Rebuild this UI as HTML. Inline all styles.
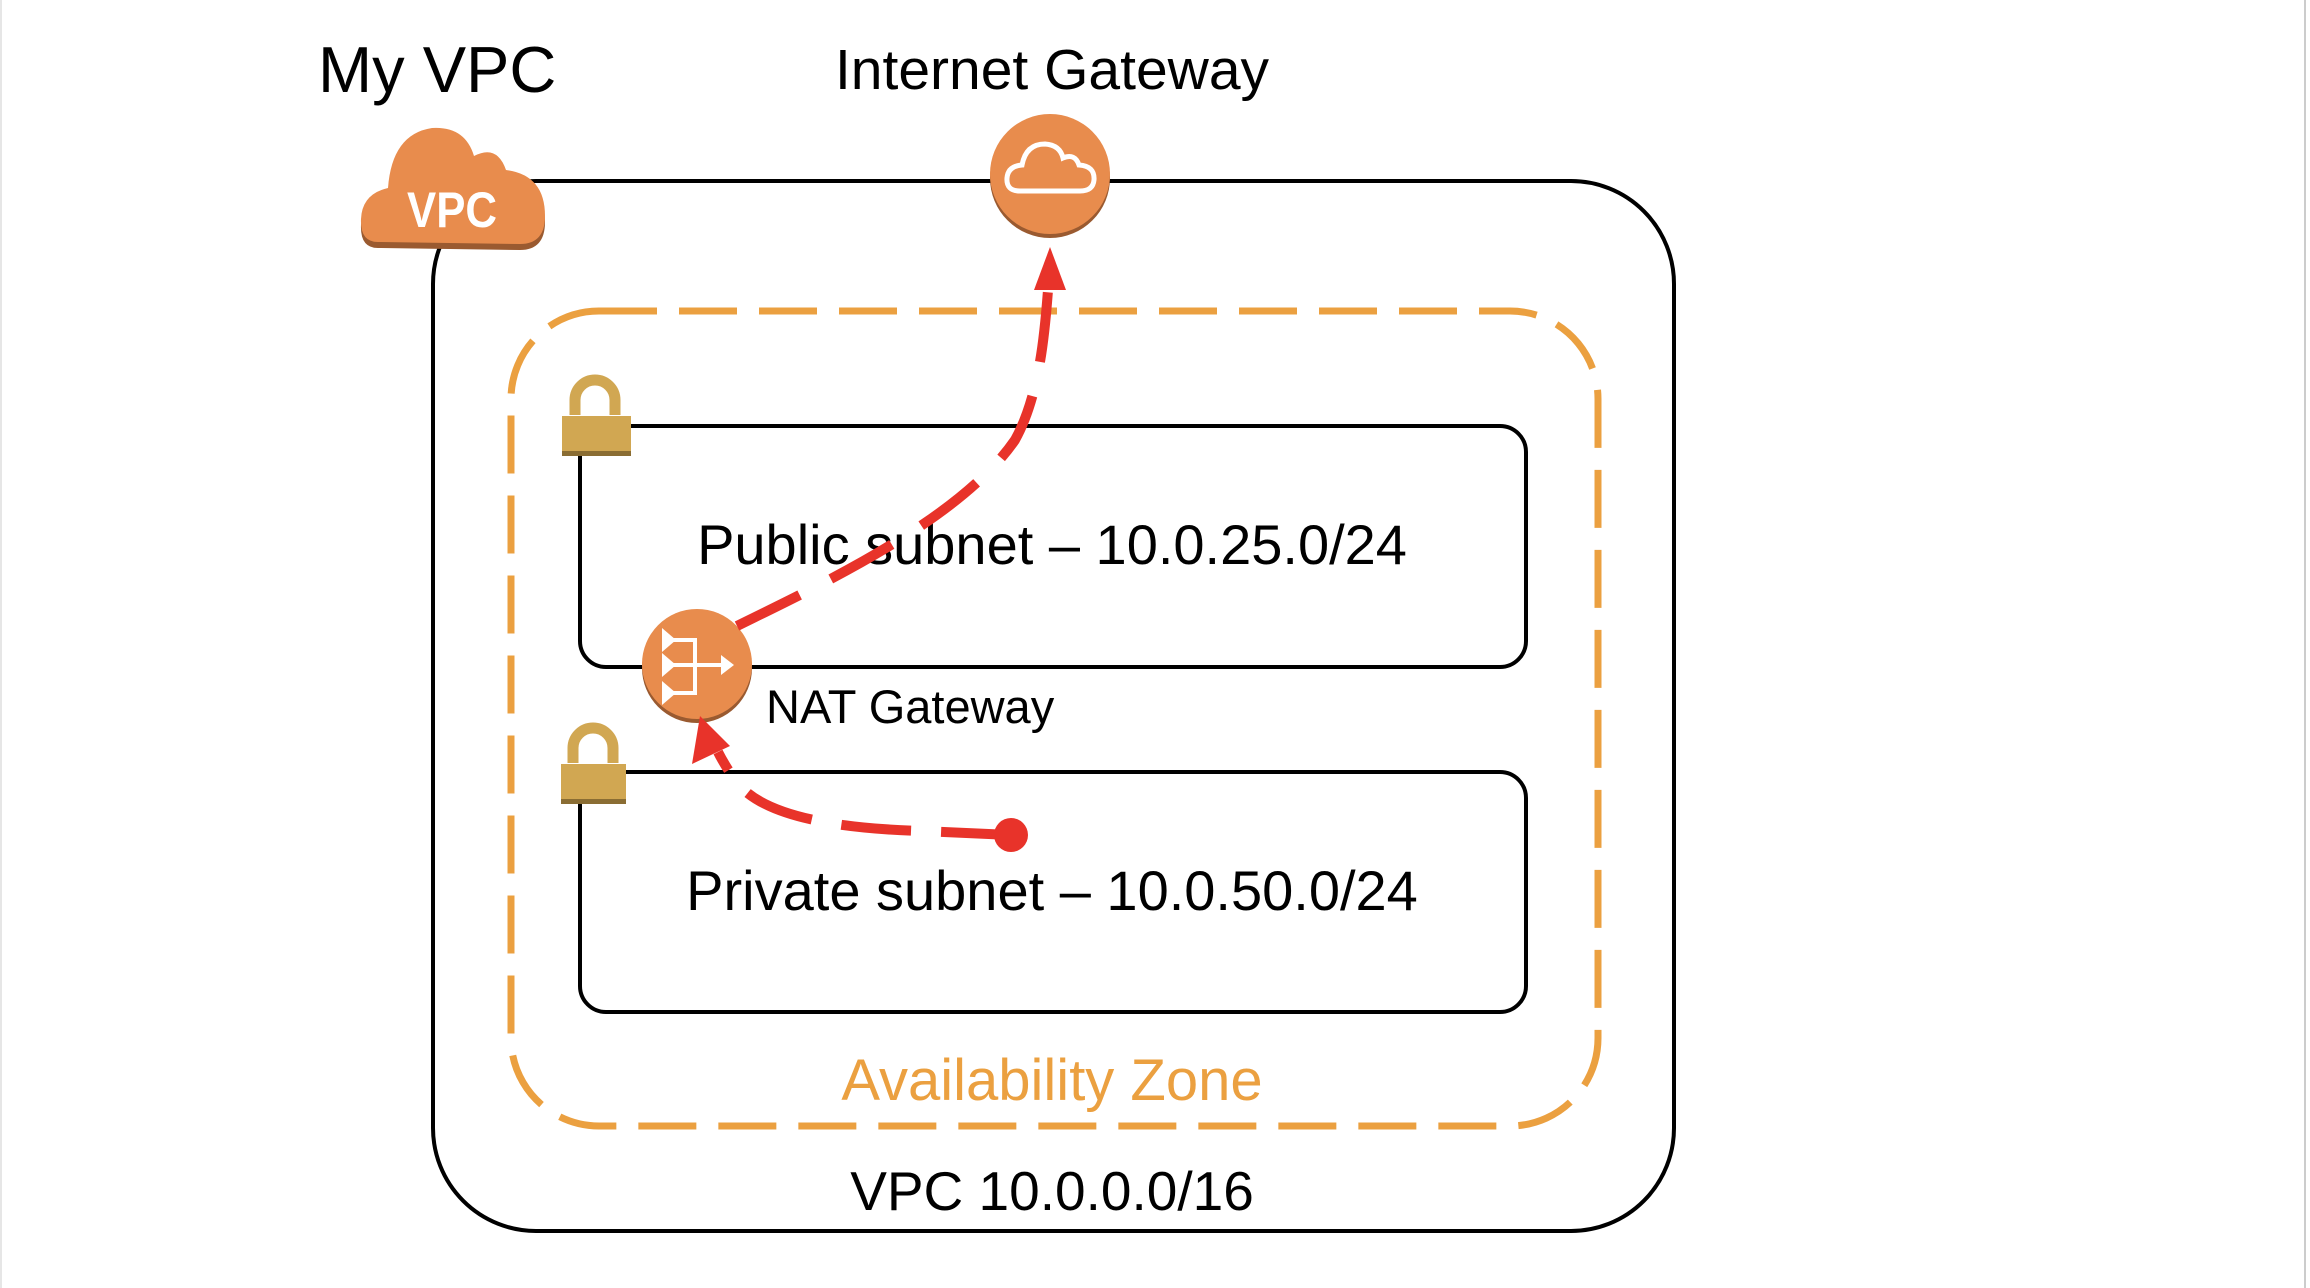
<!DOCTYPE html>
<html><head><meta charset="utf-8"><style>
html,body{margin:0;padding:0;background:#fff;}
svg{display:block}
text{font-family:"Liberation Sans","DejaVu Sans",sans-serif;}
</style></head><body>
<svg width="2310" height="1288" viewBox="0 0 2310 1288" xmlns="http://www.w3.org/2000/svg">
<rect x="0" y="0" width="2310" height="1288" fill="#fff"/>
<line x1="2305" y1="0" x2="2305" y2="1288" stroke="#ccc" stroke-width="2"/>
<line x1="1" y1="0" x2="1" y2="1288" stroke="#e6e6e6" stroke-width="2"/>
<rect x="433" y="181" width="1241" height="1050" rx="103" fill="none" stroke="#000" stroke-width="4"/>
<rect x="511" y="311" width="1087" height="815" rx="88" fill="none" stroke="#EBA040" stroke-width="7" stroke-dasharray="58,22"/>
<rect x="580" y="426" width="946" height="241" rx="26" fill="#fff" stroke="#000" stroke-width="4"/>
<rect x="580" y="772" width="946" height="240" rx="26" fill="#fff" stroke="#000" stroke-width="4"/>
<text x="1052" y="564" font-size="56" text-anchor="middle">Public subnet – 10.0.25.0/24</text>
<text x="1052" y="910" font-size="56" text-anchor="middle">Private subnet – 10.0.50.0/24</text>
<text x="1052" y="1100" font-size="58" text-anchor="middle" fill="#EBA040">Availability Zone</text>
<text x="1052" y="1210" font-size="55" text-anchor="middle">VPC 10.0.0.0/16</text>
<text x="318" y="92" font-size="65">My VPC</text>
<text x="1052" y="89" font-size="57" text-anchor="middle">Internet  Gateway</text>
<text x="766" y="723" font-size="47">NAT Gateway</text>
<g>
<path d="M575 415 V400 a20 20 0 0 1 40 0 V415" fill="none" stroke="#D1A752" stroke-width="11"/>
<rect x="562" y="416" width="69" height="38" fill="#D1A752"/>
<rect x="562" y="451" width="69" height="5" fill="#8a6d33"/>
</g>
<g>
<path d="M573 763 V748 a20 20 0 0 1 40 0 V763" fill="none" stroke="#D1A752" stroke-width="11"/>
<rect x="561" y="764" width="65" height="38" fill="#D1A752"/>
<rect x="561" y="799" width="65" height="5" fill="#8a6d33"/>
</g>
<g>
<path d="M378 248 Q360 248 361 225 Q362 200 388 194 Q392 140 432 132 Q465 130 474 162 Q497 150 506 175 Q545 180 545 222 Q545 250 520 250 Z" fill="#9a5a30"/>
<path d="M378 242 Q360 242 361 219 Q362 194 388 188 Q392 134 432 128 Q465 126 474 156 Q497 144 506 170 Q545 175 545 216 Q545 244 520 244 Z" fill="#E88C4D"/>
<text x="452" y="227" font-size="50" font-weight="bold" fill="#fff" text-anchor="middle" textLength="90" lengthAdjust="spacingAndGlyphs">VPC</text>
</g>
<circle cx="1050" cy="178" r="60" fill="#9a5a30"/>
<circle cx="1050" cy="174" r="60" fill="#E88C4D"/>
<path d="M1020 191 Q1006 191 1007 178 Q1008 166 1022 165 Q1026 144 1045 144 Q1060 145 1063 158 Q1075 153 1079 165 Q1095 166 1094 180 Q1093 191 1080 191 Z" fill="none" stroke="#fff" stroke-width="5"/>
<circle cx="697" cy="668" r="55" fill="#9a5a30"/>
<circle cx="697" cy="664" r="55" fill="#E88C4D"/>
<g stroke="#fff" stroke-width="4" fill="none">
<path d="M668 640 H695 V693 H668"/>
<path d="M668 665 H728"/>
</g>
<g fill="#fff">
<polygon points="662,628 676,640 662,652"/>
<polygon points="662,653 676,665 662,677"/>
<polygon points="662,681 676,693 662,705"/>
<polygon points="721,655 734,665 721,675"/>
</g>
<path d="M737 626 C820 585 960 520 1015 440 C1040 395 1045 330 1048 290" fill="none" stroke="#E8332A" stroke-width="10" stroke-dasharray="70,35"/>
<polygon points="1050,247 1034,290 1066,290" fill="#E8332A"/>
<path d="M1011 835 L920 831 C830 828 760 815 735 780 C728 770 722 760 718 752" fill="none" stroke="#E8332A" stroke-width="10" stroke-dasharray="70,30"/>
<circle cx="1011" cy="835" r="17" fill="#E8332A"/>
<polygon points="700,716 692,764 730,746" fill="#E8332A"/>
</svg>
</body></html>
